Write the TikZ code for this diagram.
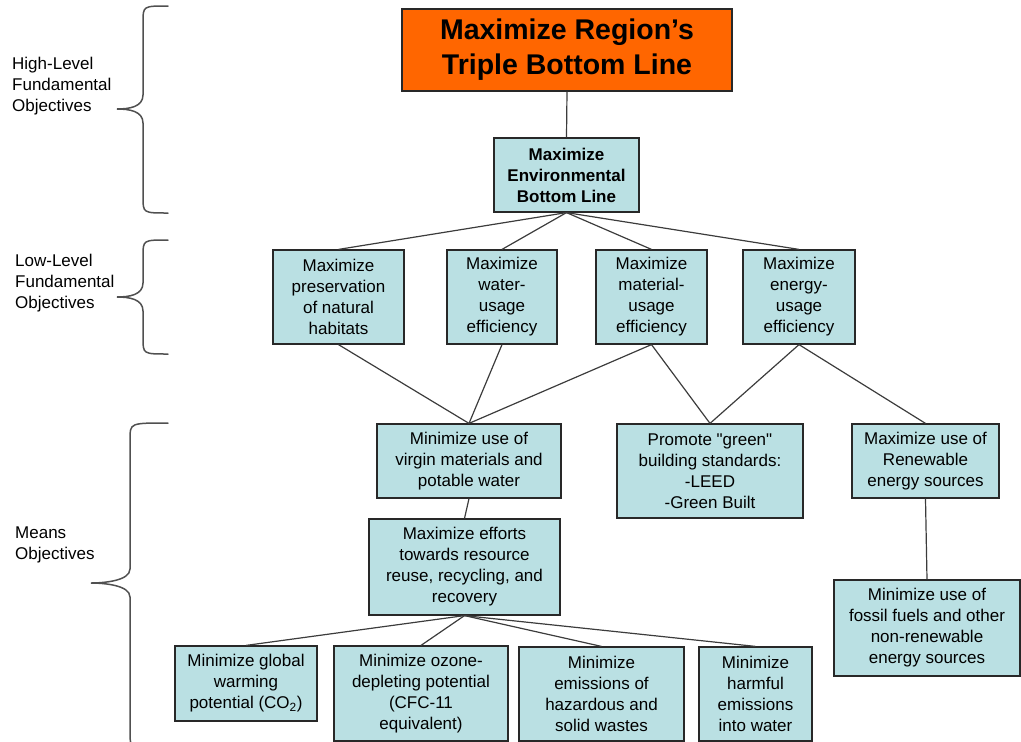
\documentclass[tikz,border=0pt]{standalone}
\usepackage{fontspec}
\setmainfont{Liberation Sans}[Ligatures=TeXOff]
\definecolor{paleblue}{RGB}{186,224,227}
\definecolor{topfill}{RGB}{255,102,0}
\definecolor{boxline}{RGB}{40,40,40}
\definecolor{linkgray}{RGB}{60,60,60}
\definecolor{bracegray}{RGB}{80,80,80}
% curly brace: end x, spine x, tip x, top y, tip y, bottom y
\newcommand\levelbrace[6]{%
  \draw[brace] (#1,#4) .. controls (#2,#4) .. (#2,{#4+16})
    -- (#2,{#5-14}) .. controls (#2,{#5-2}) and ({#3+12},#5) .. (#3,#5)
    .. controls ({#3+12},#5) and (#2,{#5+2}) .. (#2,{#5+14})
    -- (#2,{#6-16}) .. controls (#2,#6) .. (#1,#6);}
\begin{document}
\begin{tikzpicture}[x=1pt,y=-1pt,
  box/.style={draw=boxline, line width=1.2pt, fill=paleblue, align=center,
    inner sep=0pt, font=\fontsize{17}{21}\selectfont},
  link/.style={draw=linkgray, line width=1.2pt},
  brace/.style={draw=bracegray, line width=1.5pt, line cap=round},
  side/.style={anchor=west, align=left, inner sep=0pt,
    font=\fontsize{17}{21}\selectfont}]
\path[use as bounding box] (0,0) rectangle (1021,742);

% level labels and braces
\node[side] (lblhigh) at (12,86) {High-Level\\Fundamental\\Objectives};
\node[side] (lbllow) at (15,283) {Low-Level\\Fundamental\\Objectives};
\node[side] (lblmeans) at (15,545) {Means\\Objectives};
\levelbrace{168}{143}{117}{6}{109}{213}
\levelbrace{168}{143}{117}{240}{297}{354}
\levelbrace{168}{130}{91}{423}{583}{749}

% top objective
\node[box, fill=topfill, minimum width=330pt, minimum height=82pt,
  font=\fontsize{28.5}{35}\selectfont\bfseries] (tbl) at (567,50)
  {Maximize Region’s\\Triple Bottom Line};
\node[box, minimum width=145pt, minimum height=74pt,
  font=\fontsize{17}{21}\selectfont\bfseries] (env) at (566.5,175)
  {Maximize\\Environmental\\Bottom Line};

% low-level fundamental objectives
\node[box, minimum width=131pt, minimum height=94pt] (hab) at (338.5,297)
  {Maximize\\preservation\\of natural\\habitats};
\node[box, minimum width=110pt, minimum height=94pt] (wat) at (502,297)
  {Maximize\\water-\\usage\\efficiency};
\node[box, minimum width=111pt, minimum height=94pt] (mat) at (651.5,297)
  {Maximize\\material-\\usage\\efficiency};
\node[box, minimum width=112pt, minimum height=94pt] (ene) at (799,297)
  {Maximize\\energy-\\usage\\efficiency};

% means objectives
\node[box, minimum width=184pt, minimum height=74pt] (vir) at (469,461)
  {Minimize use of\\virgin materials and\\potable water};
\node[box, minimum width=186pt, minimum height=94pt] (pro) at (710,471)
  {Promote "green"\\building standards:\\-LEED\\-Green Built};
\node[box, minimum width=147pt, minimum height=74pt] (ren) at (925.5,461)
  {Maximize use of\\Renewable\\energy sources};
\node[box, minimum width=191pt, minimum height=96pt] (rec) at (464.5,567)
  {Maximize efforts\\towards resource\\reuse, recycling, and\\recovery};
\node[box, minimum width=186pt, minimum height=96pt] (fos) at (927,628)
  {Minimize use of\\fossil fuels and other\\non-renewable\\energy sources};
\node[box, minimum width=142pt, minimum height=75pt] (glo) at (246,683.5)
  {Minimize global\\warming\\potential (CO\textsubscript{2})};
\node[box, minimum width=174pt, minimum height=95pt] (ozo) at (421,693.5)
  {Minimize ozone-\\depleting potential\\(CFC-11\\equivalent)};
\node[box, minimum width=165pt, minimum height=94pt] (haz) at (601.5,694)
  {Minimize\\emissions of\\hazardous and\\solid wastes};
\node[box, minimum width=113pt, minimum height=94pt] (hrm) at (755.5,694)
  {Minimize\\harmful\\emissions\\into water};

% connectors
\draw[link] (tbl.south) -- (env.north);
\foreach \c in {hab,wat,mat,ene} \draw[link] (env.south) -- (\c.north);
\foreach \p in {hab,wat,mat} \draw[link] (\p.south) -- (vir.north);
\draw[link] (mat.south) -- (pro.north);
\draw[link] (ene.south) -- (pro.north);
\draw[link] (ene.south) -- (ren.north);
\draw[link] (ren.south) -- (fos.north);
\draw[link] (vir.south) -- (rec.north);
\foreach \c in {glo,ozo,haz,hrm} \draw[link] (rec.south) -- (\c.north);
\end{tikzpicture}
\end{document}
